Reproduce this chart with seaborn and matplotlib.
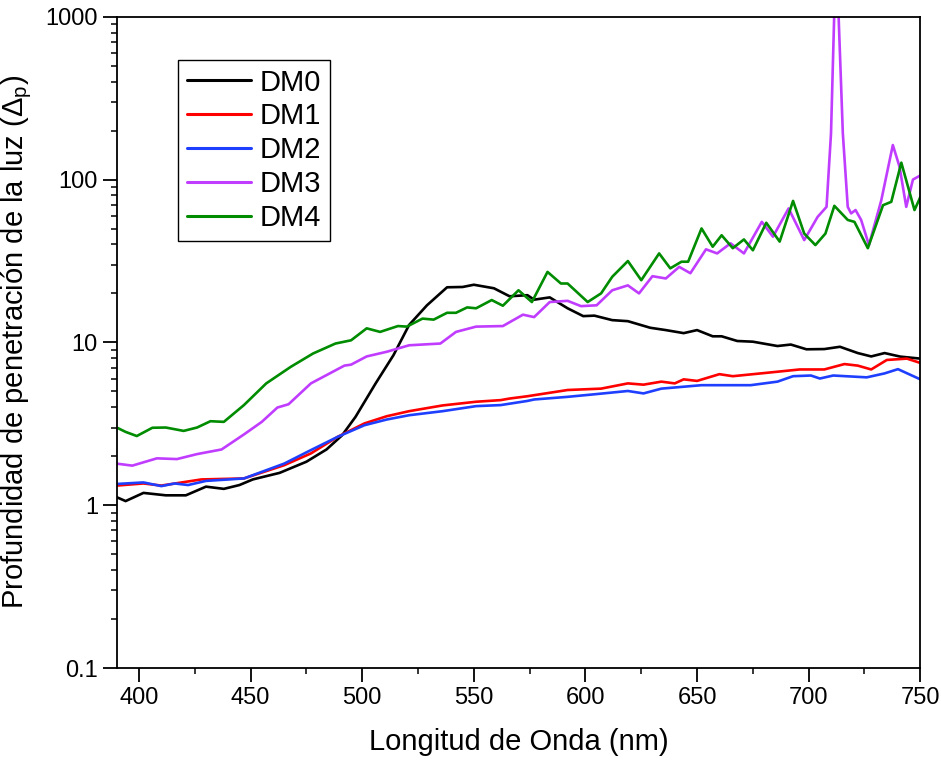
import numpy as np
import pandas as pd
import matplotlib
matplotlib.use("Agg")
import matplotlib.pyplot as plt
from matplotlib.ticker import FixedLocator, MultipleLocator, LogLocator, FuncFormatter, NullFormatter
import seaborn as sns

## values
dm0_x = [390, 394, 402, 412, 421, 430, 438, 445, 451, 463, 475, 484, 491, 497, 506, 514, 521, 529, 538, 545,
         550, 559, 566, 574, 577, 584, 592, 599, 604, 612, 619, 629, 636, 644, 650, 657, 661, 668, 675, 686,
         692, 699, 707, 714, 722, 728, 734, 741, 750]
dm0_y = [1.12, 1.06, 1.19, 1.15, 1.15, 1.30, 1.26, 1.33, 1.44, 1.58, 1.85, 2.20, 2.69, 3.49, 5.6, 8.35, 12.8, 16.9, 21.8, 21.9,
         22.6, 21.5, 19.2, 19.5, 18.3, 18.9, 16.2, 14.5, 14.6, 13.7, 13.5, 12.3, 11.9, 11.4, 11.9, 10.9, 10.9, 10.2, 10.1, 9.5,
         9.7, 9.07, 9.1, 9.4, 8.6, 8.2, 8.6, 8.18, 7.95]

dm1_x = [390, 402, 410, 428, 447, 465, 477, 489, 501, 511, 521, 536, 551, 562, 566, 574, 577, 592, 607, 619,
         626, 634, 640, 644, 650, 660, 666, 681, 696, 707, 716, 722, 728, 735, 744, 750]
dm1_y = [1.32, 1.36, 1.32, 1.44, 1.46, 1.76, 2.08, 2.63, 3.18, 3.52, 3.78, 4.1, 4.32, 4.42, 4.52, 4.67, 4.74, 5.1, 5.2, 5.6,
         5.5, 5.74, 5.6, 5.93, 5.8, 6.38, 6.2, 6.5, 6.82, 6.82, 7.36, 7.2, 6.82, 7.8, 7.95, 7.48]

dm2_x = [390, 402, 410, 416, 422, 430, 447, 465, 477, 489, 501, 511, 521, 536, 551, 562, 574, 577, 592, 604,
         619, 626, 634, 652, 674, 686, 693, 701, 705, 711, 726, 734, 740, 750]
dm2_y = [1.35, 1.38, 1.31, 1.36, 1.33, 1.41, 1.46, 1.8, 2.18, 2.63, 3.1, 3.36, 3.57, 3.78, 4.06, 4.12, 4.37, 4.46, 4.63, 4.8,
         5.03, 4.86, 5.2, 5.46, 5.46, 5.74, 6.2, 6.26, 6.0, 6.26, 6.1, 6.45, 6.85, 5.93]

dm3_x = [390, 397, 408, 417, 426, 437, 447, 455, 462, 467, 477, 492, 495, 502, 511, 521, 535, 542, 551, 563,
         572, 577, 584, 592, 598, 605, 612, 619, 624, 630, 636, 642, 647, 654, 659, 665, 671, 679, 684, 691,
         698, 704, 708, 710, 711.5, 713.3, 715.3, 717.5, 719, 721, 723.5, 727, 732.5, 737.7, 740.7, 743.7, 746.7, 750]
dm3_y = [1.80, 1.75, 1.94, 1.92, 2.06, 2.2, 2.72, 3.25, 3.98, 4.17, 5.6, 7.2, 7.3, 8.2, 8.76, 9.6, 9.84, 11.6, 12.5, 12.6,
         14.8, 14.3, 17.7, 18.0, 16.7, 16.9, 20.9, 22.4, 20.0, 25.5, 24.7, 29.1, 26.6, 37.3, 35.2, 40.6, 35.2, 55, 44.6, 66.5,
         42.5, 59, 68, 192, 1100, 1100, 192, 68, 62, 65, 56.5, 39.6, 74.4, 163, 120, 68, 100, 106]

dm4_x = [390, 394, 399, 406, 412, 420, 426, 432, 438, 447, 457, 468, 478, 488, 495, 502, 508, 516, 520, 527,
         532, 538, 542, 547, 551, 558, 563, 570, 576, 583, 589, 592, 601, 607, 612, 619, 625, 633, 638, 643,
         646, 652, 657, 661, 666, 671, 675, 681, 687, 693, 698, 703, 707.5, 711.5, 717.5, 720.5, 726.5, 733.3, 737, 741.5,
         747.4, 750]
dm4_y = [3.0, 2.82, 2.66, 2.99, 3.0, 2.86, 3.0, 3.28, 3.25, 4.12, 5.6, 7.08, 8.55, 9.84, 10.3, 12.2, 11.6, 12.6, 12.5, 14.0,
         13.8, 15.2, 15.2, 16.4, 16.2, 18.2, 16.8, 20.9, 17.7, 27.1, 23.0, 23.0, 17.7, 20.0, 25.3, 31.6, 24.1, 35.2, 28.5, 31.3,
         31.3, 50.1, 38.7, 45.5, 37.9, 42.9, 36.8, 54.3, 41.6, 74, 46.6, 39.6, 46.6, 69, 56.5, 55, 37.9, 69.6, 73, 127,
         65, 78]

series_names = ["DM0", "DM1", "DM2", "DM3", "DM4"]
series_colors = ["#000000", "#ff0000", "#1f3fff", "#c03cff", "#008c00"]
x_ticks = [400, 450, 500, 550, 600, 650, 700, 750]
y_ticks = [0.1, 1, 10, 100, 1000]

frames = []
for name, xs, ys in zip(series_names,
                        [dm0_x, dm1_x, dm2_x, dm3_x, dm4_x],
                        [dm0_y, dm1_y, dm2_y, dm3_y, dm4_y]):
    frames.append(pd.DataFrame({"wl": xs, "dp": ys, "serie": name}))
df = pd.concat(frames, ignore_index=True)

sns.set_style("ticks")
plt.rcParams["font.family"] = ["Liberation Sans", "DejaVu Sans"]
plt.rcParams["mathtext.default"] = "regular"
plt.rcParams["text.color"] = "black"
plt.rcParams["axes.labelcolor"] = "black"

fig = plt.figure(figsize=(9.41, 7.63), dpi=100)
ax = fig.add_axes([0.124, 0.1245, 0.854, 0.8535])

sns.lineplot(data=df, x="wl", y="dp", hue="serie", hue_order=series_names,
             palette=dict(zip(series_names, series_colors)),
             linewidth=1.9, sort=False, estimator=None, ax=ax)

ax.set_yscale("log")
ax.set_xlim(390, 750)
ax.set_ylim(0.1, 1000)

ax.xaxis.set_major_locator(FixedLocator(x_ticks))
ax.xaxis.set_minor_locator(MultipleLocator(25))
ax.yaxis.set_major_locator(FixedLocator(y_ticks))
ax.yaxis.set_minor_locator(LogLocator(base=10, subs=np.arange(2, 10)))
ax.yaxis.set_major_formatter(FuncFormatter(lambda v, p: "%g" % v))
ax.yaxis.set_minor_formatter(NullFormatter())

for s in ax.spines.values():
    s.set_linewidth(1.3)
    s.set_color("black")
ax.tick_params(which="major", direction="out", length=10, width=1.3, labelsize=17, colors="black")
ax.tick_params(which="minor", direction="out", length=4.5, width=1.1, colors="black")

ax.set_xlabel("Longitud de Onda (nm)", fontsize=21, labelpad=14)
ax.set_ylabel("Profundidad de penetración de la luz (Δ$_{p}$)", fontsize=21, labelpad=8)

leg = ax.legend(loc="upper left", bbox_to_anchor=(0.076, 0.934), borderaxespad=0, fontsize=21,
                frameon=True, fancybox=False, framealpha=1, edgecolor="black",
                handlelength=2.2, handletextpad=0.3, labelspacing=0.2, borderpad=0.3)
leg.get_frame().set_linewidth(1.0)
for line in leg.get_lines():
    line.set_linewidth(2.2)

plt.savefig("out.png", dpi=100)
plt.close()
